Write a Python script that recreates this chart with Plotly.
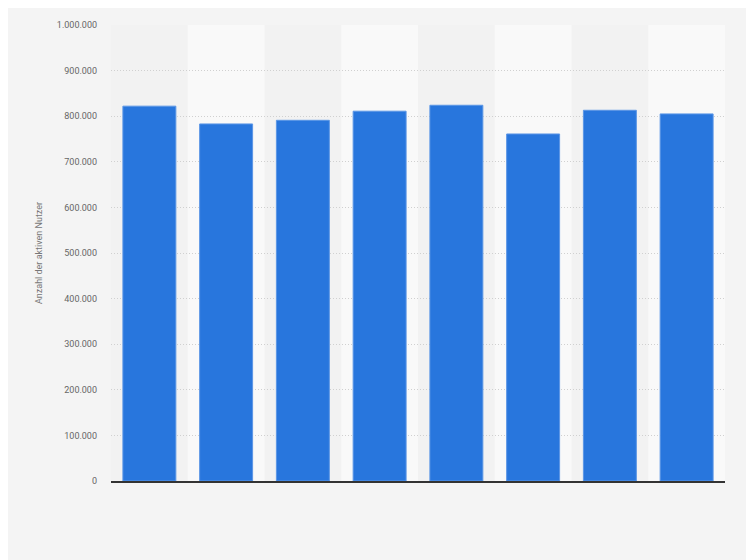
import plotly.graph_objects as go

# Data (no x labels shown in the reference)
categories = ['1', '2', '3', '4', '5', '6', '7', '8']
active_users = [822000, 783000, 791000, 811000, 824000, 761000, 813000, 805000]
y_ticks = [0, 100000, 200000, 300000, 400000, 500000, 600000, 700000, 800000, 900000, 1000000]

fig = go.Figure()
fig.add_trace(go.Bar(x=categories, y=active_users,
                     marker=dict(color='#2876dd', line=dict(color='#5b96e6', width=1))))

# alternating light column bands
for i in range(1, len(categories), 2):
    fig.add_shape(type='rect', xref='x', yref='paper', x0=i - 0.5, x1=i + 0.5,
                  y0=0, y1=1, fillcolor='#f9f9f9', line=dict(width=0), layer='below')

# page body adds an 8px offset, so the figure is a bit smaller than the window
fig.update_layout(
    width=746, height=552,
    paper_bgcolor='#f4f4f4', plot_bgcolor='#f2f2f2',
    margin=dict(l=103, r=29, t=12, b=79),
    separators=',.',
    bargap=0.31,
    showlegend=False,
    font=dict(family='Roboto, Arial, sans-serif', size=9, color='#666666'),
)
fig.update_xaxes(showticklabels=False, showgrid=False, showline=True,
                 linecolor='#333333', linewidth=1.5)
fig.update_yaxes(range=[0, 1000000], tickvals=y_ticks, tickformat=',d',
                 gridcolor='#d0d0d0', griddash='1px,2px', zeroline=False,
                 ticks='', ticklabelstandoff=13,
                 title=dict(text='Anzahl der aktiven Nutzer', font=dict(size=9, color='#777777'),
                            standoff=12))

fig.write_html("out.html")
